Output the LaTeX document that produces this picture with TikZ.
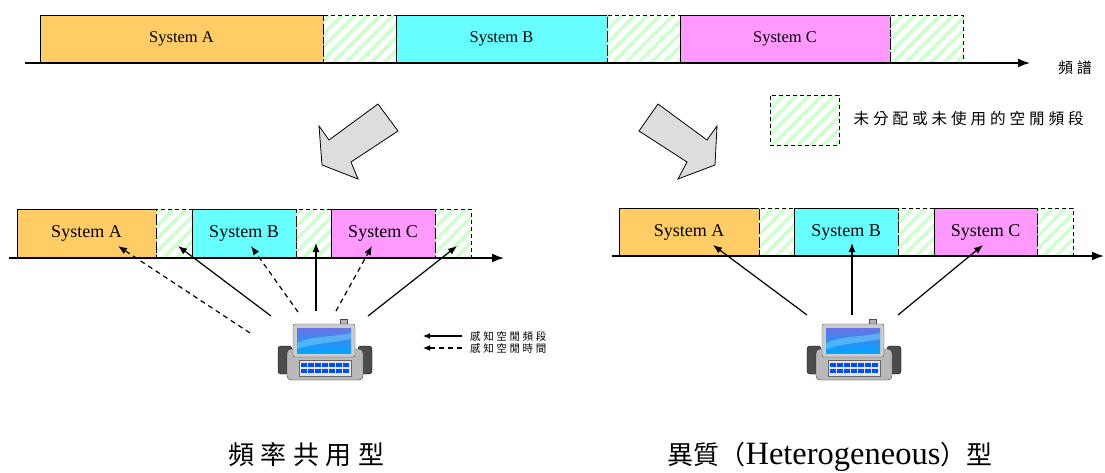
\documentclass[tikz,border=0pt]{standalone}
\usepackage{fontspec}
\setmainfont{Liberation Serif}
\newfontfamily\cjk{Noto Sans CJK TC}
\newfontfamily\cjkwide[LetterSpace=25]{Noto Sans CJK TC}
\usetikzlibrary{arrows.meta,positioning,patterns.meta}

\definecolor{sysA}{RGB}{255,204,102}
\definecolor{sysB}{RGB}{102,255,255}
\definecolor{sysC}{RGB}{255,153,255}
\definecolor{stripe}{RGB}{204,255,204}
\definecolor{bigarrow}{RGB}{221,221,221}
\definecolor{scrtop}{RGB}{105,115,230}
\definecolor{scrbot}{RGB}{0,165,255}

\begin{document}
\begin{tikzpicture}[
  x=1pt, y=-1pt,
  >={Latex[length=9pt,width=7pt]},
  sysbox/.style={draw, line width=0.8pt, inner sep=0pt, outer sep=0pt, anchor=south west,
    font=\fontsize{16.5}{18}\selectfont},
  lowbox/.style={sysbox, minimum height=49pt, font=\fontsize{18}{20}\selectfont},
  freeband/.style={preaction={solid, pattern={Lines[angle=45,distance=9pt,line width=3.5pt]}, pattern color=stripe},
    draw, dash pattern=on 4pt off 3pt, line width=0.8pt, inner sep=0pt, outer sep=0pt},
  axis/.style={line width=1.6pt, -{Latex[length=12pt,width=9pt]}},
  sense/.style={line width=1.2pt, ->},
  senselight/.style={sense, dash pattern=on 5pt off 4pt},
  turn/.style={draw=black, line width=0.8pt, fill=bigarrow, line join=miter},
  handset/.pic={
    % side grips
    \foreach \s in {-1,1}
      \filldraw[fill=black!70, draw=black, rounded corners=3pt] (\s*33,-5) rectangle (\s*47,23);
    % body
    \filldraw[fill=gray!55, draw=black!80, rounded corners=4pt] (-38,-2) rectangle (38,29);
    % antenna
    \filldraw[fill=gray!60, draw=black!70] (15,-32) rectangle (22,-25);
    % screen frame and screen
    \filldraw[fill=gray!40, draw=black!70, rounded corners=2pt] (-32,-27) rectangle (30,6);
    \shade[top color=scrtop, bottom color=scrbot] (-28,-23) rectangle (26,2);
    \fill[cyan!60!white, opacity=0.6] (-28,-8) .. controls (-10,-16) and (10,-14) .. (26,-18) -- (26,-12)
      .. controls (8,-8) and (-10,-8) .. (-28,-2) -- cycle;
    % keypad
    \filldraw[fill=gray!20, draw=black!60] (-26,9) rectangle (26,25);
    \foreach \r in {11.5,18} {
      \foreach \k in {-24,-17,...,18}
        \fill[blue!70!cyan] (\k,\r) rectangle ++(5.5,4);
    }
  }
]
  % bounding box
  \useasboundingbox (0,0) rectangle (1105,472);

  % full spectrum
  \node[sysbox, fill=sysA, minimum width=283pt, minimum height=48pt] (topA) at (40,63) {System A};
  \node[freeband, minimum width=73pt, minimum height=48pt, right=0pt of topA] (topGap1) {};
  \node[sysbox, fill=sysB, minimum width=211pt, minimum height=48pt, right=0pt of topGap1] (topB) {System B};
  \node[freeband, minimum width=73pt, minimum height=48pt, right=0pt of topB] (topGap2) {};
  \node[sysbox, fill=sysC, minimum width=210pt, minimum height=48pt, right=0pt of topGap2] (topC) {System C};
  \node[freeband, minimum width=73pt, minimum height=48pt, right=0pt of topC] (topGap3) {};
  \coordinate (topStart) at (25,63);
  \coordinate (topEnd) at (1030,63);
  \draw[axis] (topStart) -- (topEnd);
  \node[font=\cjkwide\fontsize{15}{15}\selectfont] (spectrum) at (1075,68) {頻譜};

  % legend for free bands
  \node[freeband, minimum width=69pt, minimum height=50pt, anchor=north west] (legendBand) at (770,95) {};
  \node[right=11pt of legendBand, yshift=1pt, font=\cjkwide\fontsize{15.6}{16}\selectfont] (legendText) {未分配或未使用的空閒頻段};

  % turning arrows
  \draw[turn] (378,104) -- (329,140) -- (319,126) -- (322,165) -- (358,179) -- (351,162) -- (398,131) -- cycle;
  \draw[turn] (658,104) -- (707,140) -- (717,126) -- (715,165) -- (678,179) -- (687,162) -- (639,131) -- cycle;

  % spectrum sharing
  \node[lowbox, fill=sysA, minimum width=139pt] (shareA) at (17,258) {System A};
  \node[freeband, minimum width=36pt, minimum height=49pt, right=0pt of shareA] (shareGap1) {};
  \node[lowbox, fill=sysB, minimum width=104pt, right=0pt of shareGap1] (shareB) {System B};
  \node[freeband, minimum width=35pt, minimum height=49pt, right=0pt of shareB] (shareGap2) {};
  \node[lowbox, fill=sysC, minimum width=104pt, right=0pt of shareGap2] (shareC) {System C};
  \node[freeband, minimum width=36pt, minimum height=49pt, right=0pt of shareC] (shareGap3) {};
  \coordinate (shareStart) at (9,258);
  \coordinate (shareEnd) at (504,258);
  \draw[axis] (shareStart) -- (shareEnd);

  \pic (devShare) at (325,351) {handset};
  \coordinate (s1) at (250,333); \coordinate (e1) at (118,246);
  \coordinate (s2) at (271,316); \coordinate (e2) at (178,246);
  \coordinate (s3) at (298,312); \coordinate (e3) at (251,246);
  \coordinate (s4) at (316,311); \coordinate (e4) at (316,243);
  \coordinate (s5) at (336,311); \coordinate (e5) at (372,246);
  \coordinate (s6) at (368,316); \coordinate (e6) at (457,246);
  \draw[senselight] (s1) -- (e1);
  \draw[sense] (s2) -- (e2);
  \draw[senselight] (s3) -- (e3);
  \draw[sense] (s4) -- (e4);
  \draw[senselight] (s5) -- (e5);
  \draw[sense] (s6) -- (e6);

  % legend for sensing
  \coordinate (keyS1) at (462,336); \coordinate (keyE1) at (423,336);
  \coordinate (keyS2) at (462,348); \coordinate (keyE2) at (423,348);
  \draw[sense, -{Latex[length=7pt,width=6pt]}] (keyS1) -- (keyE1);
  \draw[senselight, -{Latex[length=7pt,width=6pt]}] (keyS2) -- (keyE2);
  \node[anchor=west, inner sep=0pt, font=\cjkwide\fontsize{10.5}{10.5}\selectfont] (keyText1) at (470,336) {感知空閒頻段};
  \node[anchor=west, inner sep=0pt, font=\cjkwide\fontsize{10.5}{10.5}\selectfont] (keyText2) at (470,348) {感知空閒時間};

  % heterogeneous
  \node[lowbox, fill=sysA, minimum width=140pt, minimum height=48pt] (hetA) at (619,256) {System A};
  \node[freeband, minimum width=35pt, minimum height=48pt, right=0pt of hetA] (hetGap1) {};
  \node[lowbox, fill=sysB, minimum width=104pt, minimum height=48pt, right=0pt of hetGap1] (hetB) {System B};
  \node[freeband, minimum width=36pt, minimum height=48pt, right=0pt of hetB] (hetGap2) {};
  \node[lowbox, fill=sysC, minimum width=103pt, minimum height=48pt, right=0pt of hetGap2] (hetC) {System C};
  \node[freeband, minimum width=36pt, minimum height=48pt, right=0pt of hetC] (hetGap3) {};
  \coordinate (hetStart) at (612,256);
  \coordinate (hetEnd) at (1104,256);
  \draw[axis] (hetStart) -- (hetEnd);

  \pic (devHet) at (854,351) {handset};
  \coordinate (h1) at (807,315); \coordinate (f1) at (713,245);
  \coordinate (h2) at (852,315); \coordinate (f2) at (852,243);
  \coordinate (h3) at (898,315); \coordinate (f3) at (983,245);
  \draw[sense] (h1) -- (f1);
  \draw[sense] (h2) -- (f2);
  \draw[sense] (h3) -- (f3);

  % captions
  \node[anchor=base, inner sep=0pt, font=\cjkwide\fontsize{26}{26}\selectfont] (capShare) at (306,464) {頻率共用型};
  \node[anchor=base, inner sep=0pt] (capHet) at (830,464)
    {{\cjk\fontsize{26}{26}\selectfont 異質（}{\fontsize{32.5}{34}\selectfont Heterogeneous}{\cjk\fontsize{26}{26}\selectfont ）型}};
\end{tikzpicture}
\end{document}
